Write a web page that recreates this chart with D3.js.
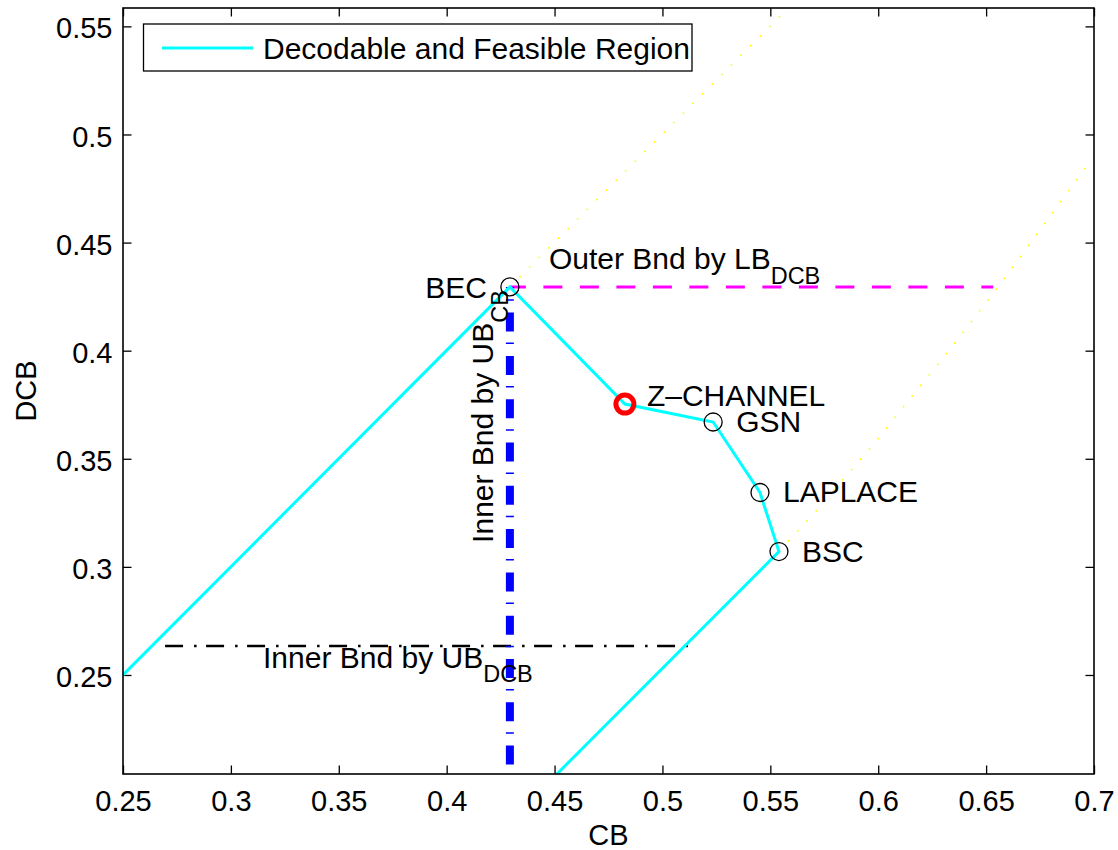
<!DOCTYPE html>
<html>
<head>
<meta charset="utf-8">
<script src="https://cdn.jsdelivr.net/npm/d3@7"></script>
<style>
  body { margin: 0; background: #fff; }
  svg text { font-family: "Liberation Sans", Arial, Helvetica, sans-serif; fill: #000; }
</style>
</head>
<body>
<svg id="chart" width="1118" height="850"></svg>
<script>
// tick labels
const xTicks = [0.25, 0.3, 0.35, 0.4, 0.45, 0.5, 0.55, 0.6, 0.65, 0.7]
const yTicks = [0.25, 0.3, 0.35, 0.4, 0.45, 0.5, 0.55]

// channel points (CB, DCB)
const channels = ['BEC', 'Z\u2013CHANNEL', 'GSN', 'LAPLACE', 'BSC']
const channelCB = [0.4293, 0.4826, 0.5235, 0.5452, 0.5540]
const channelDCB = [0.4295, 0.3753, 0.3670, 0.3344, 0.3071]

// decodable and feasible region boundary
const regionCB = [0.25, 0.4293, 0.4826, 0.5235, 0.5452, 0.5540, 0.4369]
const regionDCB = [0.25, 0.4295, 0.3753, 0.3670, 0.3344, 0.3071, 0.19]

// yellow dotted curves
const upperCB = [0.4293, 0.5700]
const upperDCB = [0.4295, 0.5702]
const lowerCB = [0.5540, 0.5707, 0.5992, 0.6147, 0.6343, 0.6555, 0.6978, 0.7030]
const lowerDCB = [0.3071, 0.3253, 0.3584, 0.3778, 0.4020, 0.4294, 0.4869, 0.4910]

// bounds
const ubCB = 0.4293
const lbDCB = 0.4295
const lbDCBEnd = 0.6533
const ubDCB = 0.2634
const ubDCBFrom = 0.2695
const ubDCBTo = 0.5118

const svg = d3.select('#chart')
const pLeft = 123, pRight = 1094, pTop = 8, pBottom = 774
const fs = 30, tickFs = 29, subFs = 23.5

let x = d3.scaleLinear().domain([0.25, 0.7]).range([pLeft, pRight])
let y = d3.scaleLinear().domain([0.2042, 0.5585]).range([pBottom, pTop])

svg.append('defs').append('clipPath').attr('id', 'plot')
  .append('rect').attr('x', pLeft).attr('y', pTop)
  .attr('width', pRight - pLeft).attr('height', pBottom - pTop)

let fmt = d => String(+d.toFixed(2))

// axes, ticks inward on all four sides
let gx = svg.append('g').attr('transform', `translate(0,${pBottom})`)
  .call(d3.axisBottom(x).tickValues(xTicks).tickFormat(fmt).tickSizeInner(-8.5).tickSizeOuter(0).tickPadding(16.4))
let gy = svg.append('g').attr('transform', `translate(${pLeft},0)`)
  .call(d3.axisLeft(y).tickValues(yTicks).tickFormat(fmt).tickSizeInner(-8.5).tickSizeOuter(0).tickPadding(10.5))
let gt = svg.append('g').attr('transform', `translate(0,${pTop})`)
  .call(d3.axisTop(x).tickValues(xTicks).tickFormat('').tickSizeInner(-8.5).tickSizeOuter(0))
let gr = svg.append('g').attr('transform', `translate(${pRight},0)`)
  .call(d3.axisRight(y).tickValues(yTicks).tickFormat('').tickSizeInner(-8.5).tickSizeOuter(0))

;[gx, gy, gt, gr].forEach(g => {
  g.select('.domain').remove()
  g.selectAll('line').attr('stroke', '#000').attr('stroke-width', 1.3)
  g.selectAll('text').style('font-size', tickFs + 'px').attr('fill', '#000')
})
gy.selectAll('text').attr('dy', '0.4em')

let plot = svg.append('g').attr('clip-path', 'url(#plot)')
let line = d3.line().x(d => x(d[0])).y(d => y(d[1]))

// yellow dotted
plot.append('path').datum(d3.zip(upperCB, upperDCB)).attr('d', line)
  .attr('fill', 'none').attr('stroke', '#ffff00').attr('stroke-width', 1.6).attr('stroke-dasharray', '1.6,12')
plot.append('path').datum(d3.zip(lowerCB, lowerDCB)).attr('d', line)
  .attr('fill', 'none').attr('stroke', '#ffff00').attr('stroke-width', 1.6).attr('stroke-dasharray', '1.6,12')

// outer bound (magenta dashed)
plot.append('path').datum([[ubCB, lbDCB], [lbDCBEnd, lbDCB]]).attr('d', line)
  .attr('fill', 'none').attr('stroke', '#ff00ff').attr('stroke-width', 3)
  .attr('stroke-dasharray', '19,17.5').attr('stroke-dashoffset', 3)

// inner bound by UB_DCB (black dash-dot)
plot.append('path').datum([[ubDCBFrom, ubDCB], [ubDCBTo, ubDCB]]).attr('d', line)
  .attr('fill', 'none').attr('stroke', '#000').attr('stroke-width', 2.5)
  .attr('stroke-dasharray', '18,11,2.5,9.5')

// inner bound by UB_CB (blue thick dash-dot)
plot.append('path').datum([[ubCB, lbDCB], [ubCB, 0.2042]]).attr('d', line)
  .attr('fill', 'none').attr('stroke', '#0000ff').attr('stroke-width', 8)
  .attr('stroke-dasharray', '19,11,1.5,11.8').attr('stroke-dashoffset', 17.6)

// region boundary
plot.append('path').datum(d3.zip(regionCB, regionDCB)).attr('d', line)
  .attr('fill', 'none').attr('stroke', '#00ffff').attr('stroke-width', 3).attr('stroke-linejoin', 'miter')

// channel markers
let pts = channels.map((c, i) => ({ name: c, cb: channelCB[i], dcb: channelDCB[i] }))
svg.selectAll('circle.pt').data(pts).enter().append('circle')
  .attr('class', 'pt')
  .attr('cx', d => x(d.cb)).attr('cy', d => y(d.dcb))
  .attr('r', 9)
  .attr('fill', 'none')
  .attr('stroke', d => d.name.indexOf('CHANNEL') > -1 ? '#ff0000' : '#000')
  .attr('stroke-width', d => d.name.indexOf('CHANNEL') > -1 ? 5 : 1.3)

// channel labels
const labelPos = { 'BEC': [-23, 11, 'end'], 'Z\u2013CHANNEL': [22, 2, 'start'], 'GSN': [23, 10, 'start'], 'LAPLACE': [23, 9, 'start'], 'BSC': [23, 10, 'start'] }
svg.selectAll('text.lbl').data(pts).enter().append('text')
  .attr('class', 'lbl')
  .attr('x', d => x(d.cb) + labelPos[d.name][0])
  .attr('y', d => y(d.dcb) + labelPos[d.name][1])
  .attr('text-anchor', d => labelPos[d.name][2])
  .style('font-size', fs + 'px')
  .text(d => d.name)

// annotations with subscripts
let outer = svg.append('text').attr('x', x(ubCB) + 39).attr('y', y(lbDCB) - 18).style('font-size', fs + 'px')
outer.append('tspan').text('Outer Bnd by LB')
outer.append('tspan').attr('dy', 15).style('font-size', subFs + 'px').text('DCB')

let innerH = svg.append('text').attr('x', x(0.3149)).attr('y', y(ubDCB) + 22).style('font-size', fs + 'px')
innerH.append('tspan').text('Inner Bnd by UB')
innerH.append('tspan').attr('dy', 14).style('font-size', subFs + 'px').text('DCB')

let innerV = svg.append('text')
  .attr('transform', `translate(${x(ubCB) - 17},${y(0.3111)}) rotate(-90)`)
  .style('font-size', fs + 'px')
innerV.append('tspan').text('Inner Bnd by UB')
innerV.append('tspan').attr('dy', 15).style('font-size', subFs + 'px').text('CB')

// frame
svg.append('rect').attr('x', pLeft).attr('y', pTop)
  .attr('width', pRight - pLeft).attr('height', pBottom - pTop)
  .attr('fill', 'none').attr('stroke', '#000').attr('stroke-width', 1.6)

// axis labels
svg.append('text').attr('x', (pLeft + pRight) / 2).attr('y', 845)
  .attr('text-anchor', 'middle').style('font-size', tickFs + 'px').text('CB')
svg.append('text').attr('transform', `translate(36,${(pTop + pBottom) / 2}) rotate(-90)`)
  .attr('text-anchor', 'middle').style('font-size', tickFs + 'px').text('DCB')

// legend
let legend = svg.append('g')
legend.append('rect').attr('x', 143.5).attr('y', 24).attr('width', 548.5).attr('height', 47)
  .attr('fill', '#fff').attr('stroke', '#000').attr('stroke-width', 1.3)
legend.append('line').attr('x1', 162).attr('x2', 253).attr('y1', 48).attr('y2', 48)
  .attr('stroke', '#00ffff').attr('stroke-width', 3)
legend.append('text').attr('x', 263).attr('y', 58.5).style('font-size', '30px').text('Decodable and Feasible Region')
</script>
</body>
</html>
